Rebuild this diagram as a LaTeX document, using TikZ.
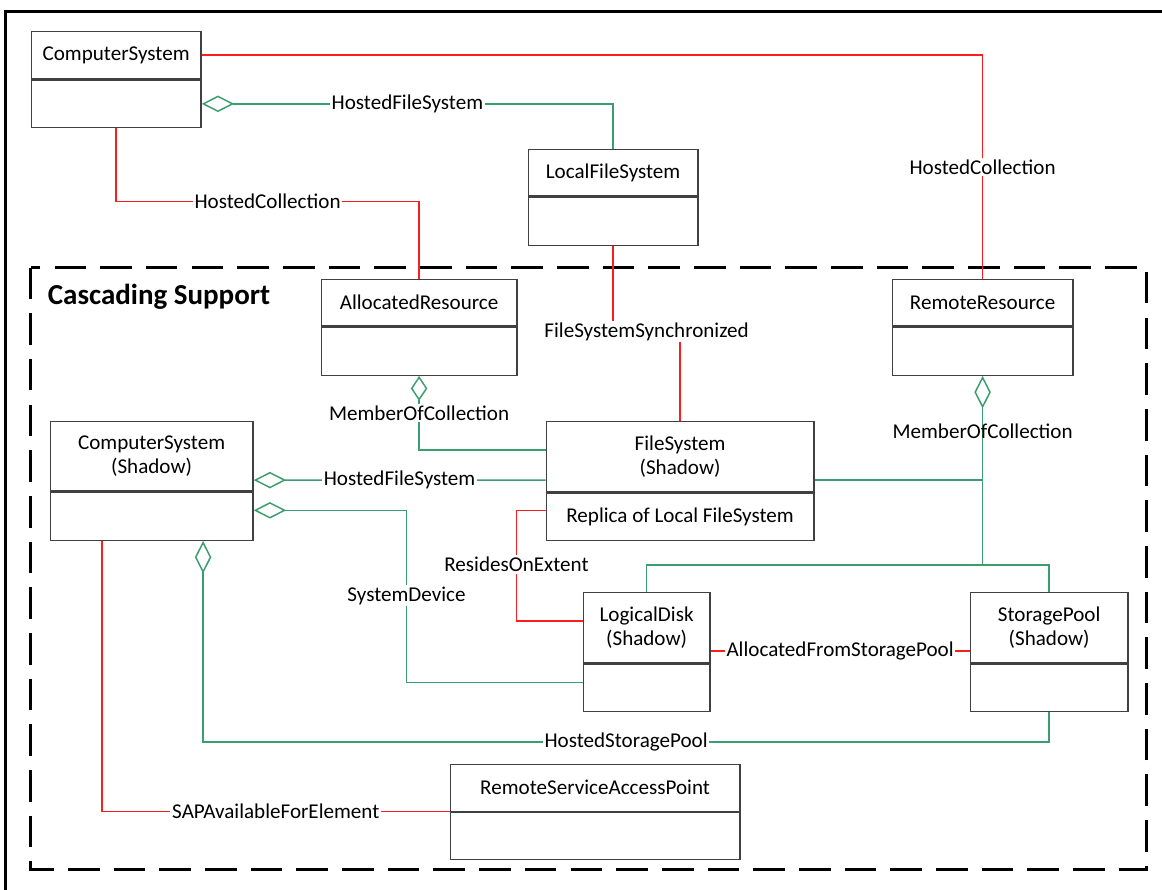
\documentclass[tikz,border=0pt]{standalone}
\usepackage{fontspec}
\setmainfont{Carlito}
\usetikzlibrary{arrows.meta}

\definecolor{assocred}{RGB}{250,30,30}
\definecolor{aggrgreen}{RGB}{60,158,112}

\begin{document}
\begin{tikzpicture}[x=0.02cm,y=-0.02cm,
  clshead/.style={draw=black!75,line width=0.7pt,fill=white,inner sep=0pt,align=center,anchor=north west,font=\fontsize{12}{14.2}\selectfont},
  clsbody/.style={draw=black!75,line width=0.7pt,fill=white,inner sep=0pt,anchor=north,font=\fontsize{12}{14.2}\selectfont},
  assoc/.style={assocred,line width=0.85pt},
  aggr/.style={aggrgreen,line width=0.85pt},
  lbl/.style={fill=white,text=black,inner sep=1pt,font=\fontsize{12}{14.2}\selectfont},
  lblclear/.style={text=black,inner sep=1pt,font=\fontsize{12}{14.2}\selectfont},
  dia/.style={{Diamond[open,length=#1,width=0.33cm]}-},
  dia/.default=0.65cm]
  \useasboundingbox (-0.5,-0.5) rectangle (1161.5,888.5);
  % frames
  \draw[line width=1.2pt] (5,900) -- (5,11) -- (1175,11);
  \draw[line width=1.7pt,dash pattern=on 18pt off 8pt] (30,267) rectangle (1146,869);
  \node[anchor=west,inner sep=0pt,font=\bfseries\fontsize{16.5}{20}\selectfont] (title) at (47,296) {Cascading Support};

  % classes
  \node[clshead,minimum width=3.4cm,minimum height=0.96cm] (cs) at (30,30) {ComputerSystem};
  \node[clsbody,minimum width=3.4cm,minimum height=0.94cm] (cs-b) at (cs.south) {};
  \node[clshead,minimum width=3.4cm,minimum height=0.94cm] (lfs) at (527,148) {LocalFileSystem};
  \node[clsbody,minimum width=3.4cm,minimum height=0.96cm] (lfs-b) at (lfs.south) {};
  \node[clshead,minimum width=3.92cm,minimum height=0.94cm] (ar) at (320,278) {AllocatedResource};
  \node[clsbody,minimum width=3.92cm,minimum height=0.96cm] (ar-b) at (ar.south) {};
  \node[clshead,minimum width=3.62cm,minimum height=0.94cm] (rr) at (891,278) {RemoteResource};
  \node[clsbody,minimum width=3.62cm,minimum height=0.96cm] (rr-b) at (rr.south) {};
  \node[clshead,minimum width=4.06cm,minimum height=1.40cm] (css) at (49,420) {ComputerSystem\\(Shadow)};
  \node[clsbody,minimum width=4.06cm,minimum height=0.96cm] (css-b) at (css.south) {};
  \node[clshead,minimum width=5.36cm,minimum height=1.42cm] (fs) at (545,420) {FileSystem\\(Shadow)};
  \node[clsbody,minimum width=5.36cm,minimum height=0.94cm] (fs-b) at (fs.south) {Replica of Local FileSystem};
  \node[clshead,minimum width=2.54cm,minimum height=1.42cm] (ld) at (582,591) {LogicalDisk\\(Shadow)};
  \node[clsbody,minimum width=2.54cm,minimum height=0.94cm] (ld-b) at (ld.south) {};
  \node[clshead,minimum width=3.16cm,minimum height=1.42cm] (sp) at (969,591) {StoragePool\\(Shadow)};
  \node[clsbody,minimum width=3.16cm,minimum height=0.94cm] (sp-b) at (sp.south) {};
  \node[clshead,minimum width=5.8cm,minimum height=0.94cm] (rsap) at (449,763) {RemoteServiceAccessPoint};
  \node[clsbody,minimum width=5.8cm,minimum height=0.94cm] (rsap-b) at (rsap.south) {};

  % associations
  \draw[assoc] (cs.east) -| node[lbl,pos=0.75]{HostedCollection} (rr.north);
  \draw[assoc] (cs-b.south) |- node[lbl,pos=0.75]{HostedCollection} (ar.north |- 0,201) -- (ar.north);
  \draw[assoc] (lfs-b.south) |- node[lbl,pos=0.75]{FileSystemSynchronized} (fs.north |- 0,331) -- (fs.north);
  \draw[assoc] ([yshift=0.13cm]fs-b.west) -| (516,564) node[lbl]{ResidesOnExtent} |- ([yshift=0.13cm]ld.west);
  \draw[assoc] ([yshift=-0.47cm]ld.east) -- node[lbl]{AllocatedFromStoragePool} ([yshift=-0.47cm]sp.west);
  \draw[assoc] ([xshift=-0.99cm]css-b.south) |- node[lbl,pos=0.75]{SAPAvailableForElement} (rsap-b.north west);

  % aggregations
  \draw[aggr,dia] (cs-b.east) -| node[lbl,pos=0.25]{HostedFileSystem} (lfs.north);
  \draw[aggr,dia=0.5cm] (ar-b.south) |- node[lbl,pos=0.25]{MemberOfCollection} ([yshift=0.13cm]fs.west);
  \draw[aggr,dia] ([yshift=-0.48cm]css.east) -- node[lbl]{HostedFileSystem} ([yshift=-0.47cm]fs.west);
  \draw[aggr,dia] ([yshift=0.12cm]css-b.east) -| (406,595) node[lbl]{SystemDevice} |- ([yshift=0.11cm]ld-b.west);
  \draw[aggr,dia] ([xshift=1.03cm]css-b.south) |- node[lbl,pos=0.75]{HostedStoragePool} ([yshift=-0.6cm]sp-b.south) -- (sp-b.south);
  \path (rr-b.south) ++(0,189) coordinate (mj);
  \draw[aggr,dia] (rr-b.south) -- node[lblclear,pos=0.29]{MemberOfCollection} (mj);
  \draw[aggr] ([yshift=-0.47cm]fs.east) -| (mj);
  \draw[aggr] (ld.north) |- (mj) -| (sp.north);
\end{tikzpicture}
\end{document}
